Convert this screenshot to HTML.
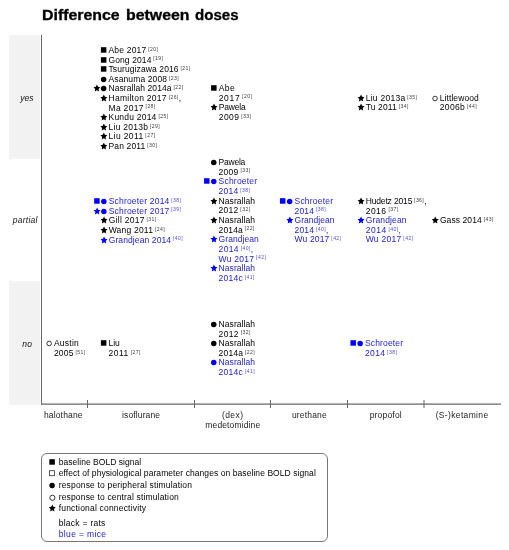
<!DOCTYPE html>
<html><head><meta charset="utf-8"><style>
*{margin:0;padding:0;box-sizing:border-box}
html,body{width:509px;height:550px;background:#fff;overflow:hidden}
body{position:relative;font-family:"Liberation Sans",sans-serif;color:#000}
svg{position:absolute;left:0;top:0}
#w{position:absolute;left:0;top:0;width:509px;height:550px;will-change:transform}
.t{position:absolute;font-size:8.5px;line-height:10px;white-space:nowrap;letter-spacing:0.1px}
.s{font-size:5.1px;position:relative;top:-2.2px;letter-spacing:0.4px;line-height:0;opacity:0.8}
.l{position:absolute;font-size:8.5px;line-height:10px;white-space:nowrap}
.c{position:absolute;width:80px;text-align:center;font-size:8.5px;color:#222;line-height:10px;white-space:nowrap}
.r{position:absolute;width:40px;text-align:center;font-size:8.5px;color:#111;font-style:italic;line-height:10px;white-space:nowrap}
.title{position:absolute;top:7px;font-size:14px;font-weight:bold;-webkit-text-stroke:0.3px #000;line-height:16px;white-space:nowrap;transform-origin:0 0}
.leg{position:absolute;left:41px;top:453px;width:287px;height:89px;border:1px solid #777;border-radius:6px}
</style></head><body>
<div id="w">
<svg width="509" height="550" viewBox="0 0 509 550"><rect x="9" y="35" width="31" height="124" fill="#f2f2f2"/><rect x="9" y="281" width="31" height="124" fill="#f2f2f2"/><line x1="41.5" y1="35" x2="41.5" y2="404.7" stroke="#666" stroke-width="1"/><line x1="41" y1="404.1" x2="501" y2="404.1" stroke="#666" stroke-width="1.3"/><line x1="87.5" y1="400" x2="87.5" y2="408" stroke="#666" stroke-width="1"/><line x1="194.5" y1="400" x2="194.5" y2="408" stroke="#666" stroke-width="1"/><line x1="270.5" y1="400" x2="270.5" y2="408" stroke="#666" stroke-width="1"/><line x1="347.5" y1="400" x2="347.5" y2="408" stroke="#666" stroke-width="1"/><line x1="424.0" y1="400" x2="424.0" y2="408" stroke="#666" stroke-width="1"/></svg>
<div class="leg"></div>
<div class="title" style="left:42.1px;transform:scaleX(1.135)">Difference</div><div class="title" style="left:126.1px;transform:scaleX(1.135)">between</div><div class="title" style="left:194.7px;transform:scaleX(1.075)">doses</div>
<div class="r" style="left:6.80px;top:93.00px;letter-spacing:0.0px">yes</div><div class="r" style="left:5.20px;top:215.00px;letter-spacing:0.25px">partial</div><div class="r" style="left:7.20px;top:339.00px;letter-spacing:0.3px">no</div>
<div class="c" style="left:23.30px;top:410.00px;letter-spacing:0.16px">halothane</div><div class="c" style="left:101.10px;top:410.00px;letter-spacing:0.12px">isoflurane</div><div class="c" style="left:192.70px;top:410.00px;letter-spacing:0.45px">(dex)</div><div class="c" style="left:192.80px;top:420.00px;letter-spacing:0.13px">medetomidine</div><div class="c" style="left:269.40px;top:410.00px;letter-spacing:0.18px">urethane</div><div class="c" style="left:345.80px;top:410.00px;letter-spacing:0.2px">propofol</div><div class="c" style="left:422.10px;top:410.00px;letter-spacing:0.35px">(S-)ketamine</div>
<div class="t" style="left:108.50px;top:45.00px;color:#000;letter-spacing:0.19px">Abe 2017<span class="s"> [20]</span></div><div class="t" style="left:108.50px;top:54.60px;color:#000;letter-spacing:0.10px">Gong 2014<span class="s"> [19]</span></div><div class="t" style="left:108.50px;top:64.20px;color:#000;letter-spacing:0.10px">Tsurugizawa 2016<span class="s"> [21]</span></div><div class="t" style="left:108.50px;top:73.80px;color:#000;letter-spacing:0.12px">Asanuma 2008<span class="s"> [23]</span></div><div class="t" style="left:108.50px;top:83.40px;color:#000;letter-spacing:0.08px">Nasrallah 2014a<span class="s"> [22]</span></div><div class="t" style="left:108.50px;top:93.00px;color:#000;letter-spacing:0.27px">Hamilton 2017<span class="s"> [26]</span>,</div><div class="t" style="left:108.50px;top:102.60px;color:#000;letter-spacing:0.31px">Ma 2017<span class="s"> [28]</span></div><div class="t" style="left:108.50px;top:112.20px;color:#000;letter-spacing:0.22px">Kundu 2014<span class="s"> [25]</span></div><div class="t" style="left:108.50px;top:121.80px;color:#000;letter-spacing:0.26px">Liu 2013b<span class="s"> [29]</span></div><div class="t" style="left:108.50px;top:131.40px;color:#000;letter-spacing:0.38px">Liu 2011<span class="s"> [27]</span></div><div class="t" style="left:108.50px;top:141.00px;color:#000;letter-spacing:0.15px">Pan 2011<span class="s"> [30]</span></div><div class="t" style="left:218.70px;top:83.00px;color:#000;letter-spacing:0.42px">Abe</div><div class="t" style="left:218.70px;top:92.67px;color:#000;letter-spacing:0.68px">2017<span class="s"> [20]</span></div><div class="t" style="left:218.70px;top:102.33px;color:#000;letter-spacing:-0.15px">Pawela</div><div class="t" style="left:218.70px;top:112.00px;color:#000;letter-spacing:0.47px">2009<span class="s"> [33]</span></div><div class="t" style="left:365.70px;top:92.70px;color:#000;letter-spacing:0.27px">Liu 2013a<span class="s"> [35]</span></div><div class="t" style="left:365.70px;top:102.20px;color:#000;letter-spacing:0.15px">Tu 2011<span class="s"> [34]</span></div><div class="t" style="left:439.80px;top:92.70px;color:#000;letter-spacing:0.07px">Littlewood</div><div class="t" style="left:439.80px;top:102.20px;color:#000;letter-spacing:0.34px">2006b<span class="s"> [44]</span></div><div class="t" style="left:108.70px;top:196.00px;color:#2222cc;letter-spacing:0.19px">Schroeter 2014<span class="s"> [38]</span></div><div class="t" style="left:108.70px;top:205.67px;color:#2222cc;letter-spacing:0.19px">Schroeter 2017<span class="s"> [39]</span></div><div class="t" style="left:108.70px;top:215.33px;color:#000;letter-spacing:0.27px">Gill 2017<span class="s"> [31]</span></div><div class="t" style="left:108.70px;top:225.00px;color:#000;letter-spacing:0.21px">Wang 2011<span class="s"> [24]</span></div><div class="t" style="left:108.70px;top:234.67px;color:#2222cc;letter-spacing:0.11px">Grandjean 2014<span class="s"> [40]</span></div><div class="t" style="left:218.60px;top:157.00px;color:#000;letter-spacing:-0.23px">Pawela</div><div class="t" style="left:218.60px;top:166.67px;color:#000;letter-spacing:0.27px">2009<span class="s"> [33]</span></div><div class="t" style="left:218.60px;top:176.33px;color:#2222cc;letter-spacing:0.21px">Schroeter</div><div class="t" style="left:218.60px;top:186.00px;color:#2222cc;letter-spacing:0.24px">2014<span class="s"> [38]</span></div><div class="t" style="left:218.60px;top:195.67px;color:#000;letter-spacing:0.06px">Nasrallah</div><div class="t" style="left:218.60px;top:205.34px;color:#000;letter-spacing:0.26px">2012<span class="s"> [32]</span></div><div class="t" style="left:218.60px;top:215.00px;color:#000;letter-spacing:0.06px">Nasrallah</div><div class="t" style="left:218.60px;top:224.67px;color:#000;letter-spacing:0.14px">2014a<span class="s"> [22]</span></div><div class="t" style="left:218.60px;top:234.34px;color:#2222cc;letter-spacing:0.07px">Grandjean</div><div class="t" style="left:218.60px;top:244.00px;color:#2222cc;letter-spacing:0.34px">2014<span class="s"> [40]</span>,</div><div class="t" style="left:218.60px;top:253.67px;color:#2222cc;letter-spacing:0.26px">Wu 2017<span class="s"> [42]</span></div><div class="t" style="left:218.60px;top:263.34px;color:#2222cc;letter-spacing:0.06px">Nasrallah</div><div class="t" style="left:218.60px;top:273.00px;color:#2222cc;letter-spacing:0.24px">2014c<span class="s"> [41]</span></div><div class="t" style="left:294.50px;top:196.00px;color:#2222cc;letter-spacing:0.21px">Schroeter</div><div class="t" style="left:294.50px;top:205.60px;color:#2222cc;letter-spacing:0.17px">2014<span class="s"> [38]</span></div><div class="t" style="left:294.50px;top:215.20px;color:#2222cc;letter-spacing:0.05px">Grandjean</div><div class="t" style="left:294.50px;top:224.80px;color:#2222cc;letter-spacing:0.17px">2014<span class="s"> [40]</span>,</div><div class="t" style="left:294.50px;top:234.40px;color:#2222cc;letter-spacing:0.16px">Wu 2017<span class="s"> [42]</span></div><div class="t" style="left:365.70px;top:196.00px;color:#000;letter-spacing:-0.15px">Hudetz 2015<span class="s"> [36]</span>,</div><div class="t" style="left:365.70px;top:205.60px;color:#000;letter-spacing:0.49px">2016<span class="s"> [37]</span></div><div class="t" style="left:365.70px;top:215.20px;color:#2222cc;letter-spacing:0.14px">Grandjean</div><div class="t" style="left:365.70px;top:224.80px;color:#2222cc;letter-spacing:0.52px">2014<span class="s"> [40]</span>,</div><div class="t" style="left:365.70px;top:234.40px;color:#2222cc;letter-spacing:0.28px">Wu 2017<span class="s"> [42]</span></div><div class="t" style="left:439.90px;top:215.00px;color:#000;letter-spacing:0.09px">Gass 2014<span class="s"> [43]</span></div><div class="t" style="left:53.90px;top:338.40px;color:#000;letter-spacing:0.26px">Austin</div><div class="t" style="left:53.90px;top:347.90px;color:#000;letter-spacing:0.21px">2005<span class="s"> [51]</span></div><div class="t" style="left:108.50px;top:338.40px;color:#000;letter-spacing:-0.03px">Liu</div><div class="t" style="left:108.50px;top:347.90px;color:#000;letter-spacing:0.52px">2011<span class="s"> [27]</span></div><div class="t" style="left:218.60px;top:319.00px;color:#000;letter-spacing:0.06px">Nasrallah</div><div class="t" style="left:218.60px;top:328.60px;color:#000;letter-spacing:0.36px">2012<span class="s"> [32]</span></div><div class="t" style="left:218.60px;top:338.20px;color:#000;letter-spacing:0.06px">Nasrallah</div><div class="t" style="left:218.60px;top:347.80px;color:#000;letter-spacing:0.17px">2014a<span class="s"> [22]</span></div><div class="t" style="left:218.60px;top:357.40px;color:#2222cc;letter-spacing:0.06px">Nasrallah</div><div class="t" style="left:218.60px;top:367.00px;color:#2222cc;letter-spacing:0.27px">2014c<span class="s"> [41]</span></div><div class="t" style="left:365.00px;top:338.40px;color:#2222cc;letter-spacing:0.14px">Schroeter</div><div class="t" style="left:365.00px;top:347.90px;color:#2222cc;letter-spacing:0.34px">2014<span class="s"> [38]</span></div>
<div class="l" style="left:58.7px;top:456.90px;letter-spacing:0.04px">baseline BOLD signal</div><div class="l" style="left:58.7px;top:468.40px;letter-spacing:0.07px">effect of physiological parameter changes on baseline BOLD signal</div><div class="l" style="left:58.7px;top:480.00px;letter-spacing:0.17px">response to peripheral stimulation</div><div class="l" style="left:58.7px;top:491.60px;letter-spacing:0.16px">response to central stimulation</div><div class="l" style="left:58.7px;top:503.10px;letter-spacing:0.19px">functional connectivity</div><div class="l" style="left:58.7px;top:517.60px;letter-spacing:0.27px">black = rats</div><div class="l" style="left:58.7px;top:529.30px;letter-spacing:0.37px;color:#2222cc">blue = mice</div>
<svg width="509" height="550" viewBox="0 0 509 550"><rect x="100.90" y="47.20" width="5.5" height="5.5" fill="#000"/><rect x="100.90" y="57.20" width="5.5" height="5.5" fill="#000"/><rect x="100.90" y="66.20" width="5.5" height="5.5" fill="#000"/><circle cx="103.65" cy="79.45" r="2.75" fill="#000"/><circle cx="103.65" cy="88.45" r="2.75" fill="#000"/><path d="M96.90,84.60 L97.97,86.84 L100.35,87.20 L98.63,88.94 L99.03,91.40 L96.90,90.24 L94.77,91.40 L95.18,88.94 L93.45,87.20 L95.83,86.84Z" fill="#000"/><path d="M103.85,94.60 L104.92,96.84 L107.30,97.20 L105.58,98.94 L105.98,101.40 L103.85,100.24 L101.72,101.40 L102.12,98.94 L100.40,97.20 L102.78,96.84Z" fill="#000"/><path d="M103.85,113.60 L104.92,115.84 L107.30,116.20 L105.58,117.94 L105.98,120.40 L103.85,119.24 L101.72,120.40 L102.12,117.94 L100.40,116.20 L102.78,115.84Z" fill="#000"/><path d="M103.85,123.60 L104.92,125.84 L107.30,126.20 L105.58,127.94 L105.98,130.40 L103.85,129.24 L101.72,130.40 L102.12,127.94 L100.40,126.20 L102.78,125.84Z" fill="#000"/><path d="M103.85,132.60 L104.92,134.84 L107.30,135.20 L105.58,136.94 L105.98,139.40 L103.85,138.24 L101.72,139.40 L102.12,136.94 L100.40,135.20 L102.78,134.84Z" fill="#000"/><path d="M103.85,142.60 L104.92,144.84 L107.30,145.20 L105.58,146.94 L105.98,149.40 L103.85,148.24 L101.72,149.40 L102.12,146.94 L100.40,145.20 L102.78,144.84Z" fill="#000"/><rect x="211.10" y="85.20" width="5.5" height="5.5" fill="#000"/><path d="M214.05,103.60 L215.12,105.84 L217.50,106.20 L215.78,107.94 L216.18,110.40 L214.05,109.24 L211.92,110.40 L212.32,107.94 L210.60,106.20 L212.98,105.84Z" fill="#000"/><path d="M361.05,94.60 L362.12,96.84 L364.50,97.20 L362.78,98.94 L363.18,101.40 L361.05,100.24 L358.92,101.40 L359.33,98.94 L357.60,97.20 L359.98,96.84Z" fill="#000"/><path d="M361.05,103.60 L362.12,105.84 L364.50,106.20 L362.78,107.94 L363.18,110.40 L361.05,109.24 L358.92,110.40 L359.33,107.94 L357.60,106.20 L359.98,105.84Z" fill="#000"/><circle cx="435.05" cy="98.50" r="2.3" fill="none" stroke="#222" stroke-width="0.9"/><circle cx="103.85" cy="201.45" r="2.75" fill="#0000ff"/><rect x="94.15" y="198.20" width="5.5" height="5.5" fill="#0000ff"/><circle cx="103.85" cy="211.45" r="2.75" fill="#0000ff"/><path d="M97.10,207.60 L98.17,209.84 L100.55,210.20 L98.83,211.94 L99.23,214.40 L97.10,213.24 L94.97,214.40 L95.38,211.94 L93.65,210.20 L96.03,209.84Z" fill="#0000ff"/><path d="M104.05,216.60 L105.12,218.84 L107.50,219.20 L105.77,220.94 L106.18,223.40 L104.05,222.24 L101.92,223.40 L102.32,220.94 L100.60,219.20 L102.98,218.84Z" fill="#000"/><path d="M104.05,226.60 L105.12,228.84 L107.50,229.20 L105.77,230.94 L106.18,233.40 L104.05,232.24 L101.92,233.40 L102.32,230.94 L100.60,229.20 L102.98,228.84Z" fill="#000"/><path d="M104.05,236.60 L105.12,238.84 L107.50,239.20 L105.77,240.94 L106.18,243.40 L104.05,242.24 L101.92,243.40 L102.32,240.94 L100.60,239.20 L102.98,238.84Z" fill="#0000ff"/><circle cx="213.75" cy="162.45" r="2.75" fill="#000"/><circle cx="213.75" cy="181.45" r="2.75" fill="#0000ff"/><rect x="204.05" y="178.20" width="5.5" height="5.5" fill="#0000ff"/><path d="M213.95,197.60 L215.02,199.84 L217.40,200.20 L215.68,201.94 L216.08,204.40 L213.95,203.24 L211.82,204.40 L212.22,201.94 L210.50,200.20 L212.88,199.84Z" fill="#000"/><path d="M213.95,216.60 L215.02,218.84 L217.40,219.20 L215.68,220.94 L216.08,223.40 L213.95,222.24 L211.82,223.40 L212.22,220.94 L210.50,219.20 L212.88,218.84Z" fill="#000"/><path d="M213.95,235.60 L215.02,237.84 L217.40,238.20 L215.68,239.94 L216.08,242.40 L213.95,241.24 L211.82,242.40 L212.22,239.94 L210.50,238.20 L212.88,237.84Z" fill="#0000ff"/><path d="M213.95,264.60 L215.02,266.84 L217.40,267.20 L215.68,268.94 L216.08,271.40 L213.95,270.24 L211.82,271.40 L212.22,268.94 L210.50,267.20 L212.88,266.84Z" fill="#0000ff"/><circle cx="289.65" cy="201.45" r="2.75" fill="#0000ff"/><rect x="279.95" y="198.20" width="5.5" height="5.5" fill="#0000ff"/><path d="M289.85,216.60 L290.92,218.84 L293.30,219.20 L291.57,220.94 L291.98,223.40 L289.85,222.24 L287.72,223.40 L288.12,220.94 L286.40,219.20 L288.78,218.84Z" fill="#0000ff"/><path d="M361.05,197.60 L362.12,199.84 L364.50,200.20 L362.78,201.94 L363.18,204.40 L361.05,203.24 L358.92,204.40 L359.33,201.94 L357.60,200.20 L359.98,199.84Z" fill="#000"/><path d="M361.05,216.60 L362.12,218.84 L364.50,219.20 L362.78,220.94 L363.18,223.40 L361.05,222.24 L358.92,223.40 L359.33,220.94 L357.60,219.20 L359.98,218.84Z" fill="#0000ff"/><path d="M435.25,216.60 L436.32,218.84 L438.70,219.20 L436.98,220.94 L437.38,223.40 L435.25,222.24 L433.12,223.40 L433.53,220.94 L431.80,219.20 L434.18,218.84Z" fill="#000"/><circle cx="49.15" cy="343.50" r="2.3" fill="none" stroke="#222" stroke-width="0.9"/><rect x="100.90" y="340.20" width="5.5" height="5.5" fill="#000"/><circle cx="213.75" cy="324.45" r="2.75" fill="#000"/><circle cx="213.75" cy="343.45" r="2.75" fill="#000"/><circle cx="213.75" cy="362.45" r="2.75" fill="#0000ff"/><circle cx="360.15" cy="343.45" r="2.75" fill="#0000ff"/><rect x="350.45" y="340.20" width="5.5" height="5.5" fill="#0000ff"/><rect x="49.35" y="459.20" width="5.5" height="5.5" fill="#000"/><rect x="49.40" y="470.70" width="5.0" height="5.0" fill="none" stroke="#333" stroke-width="0.8"/><circle cx="52.10" cy="485.45" r="2.75" fill="#000"/><circle cx="52.40" cy="497.80" r="2.6" fill="none" stroke="#222" stroke-width="0.9"/><path d="M52.30,504.60 L53.37,506.84 L55.75,507.20 L54.02,508.94 L54.43,511.40 L52.30,510.24 L50.17,511.40 L50.58,508.94 L48.85,507.20 L51.23,506.84Z" fill="#000"/></svg>
</div>
</body></html>
